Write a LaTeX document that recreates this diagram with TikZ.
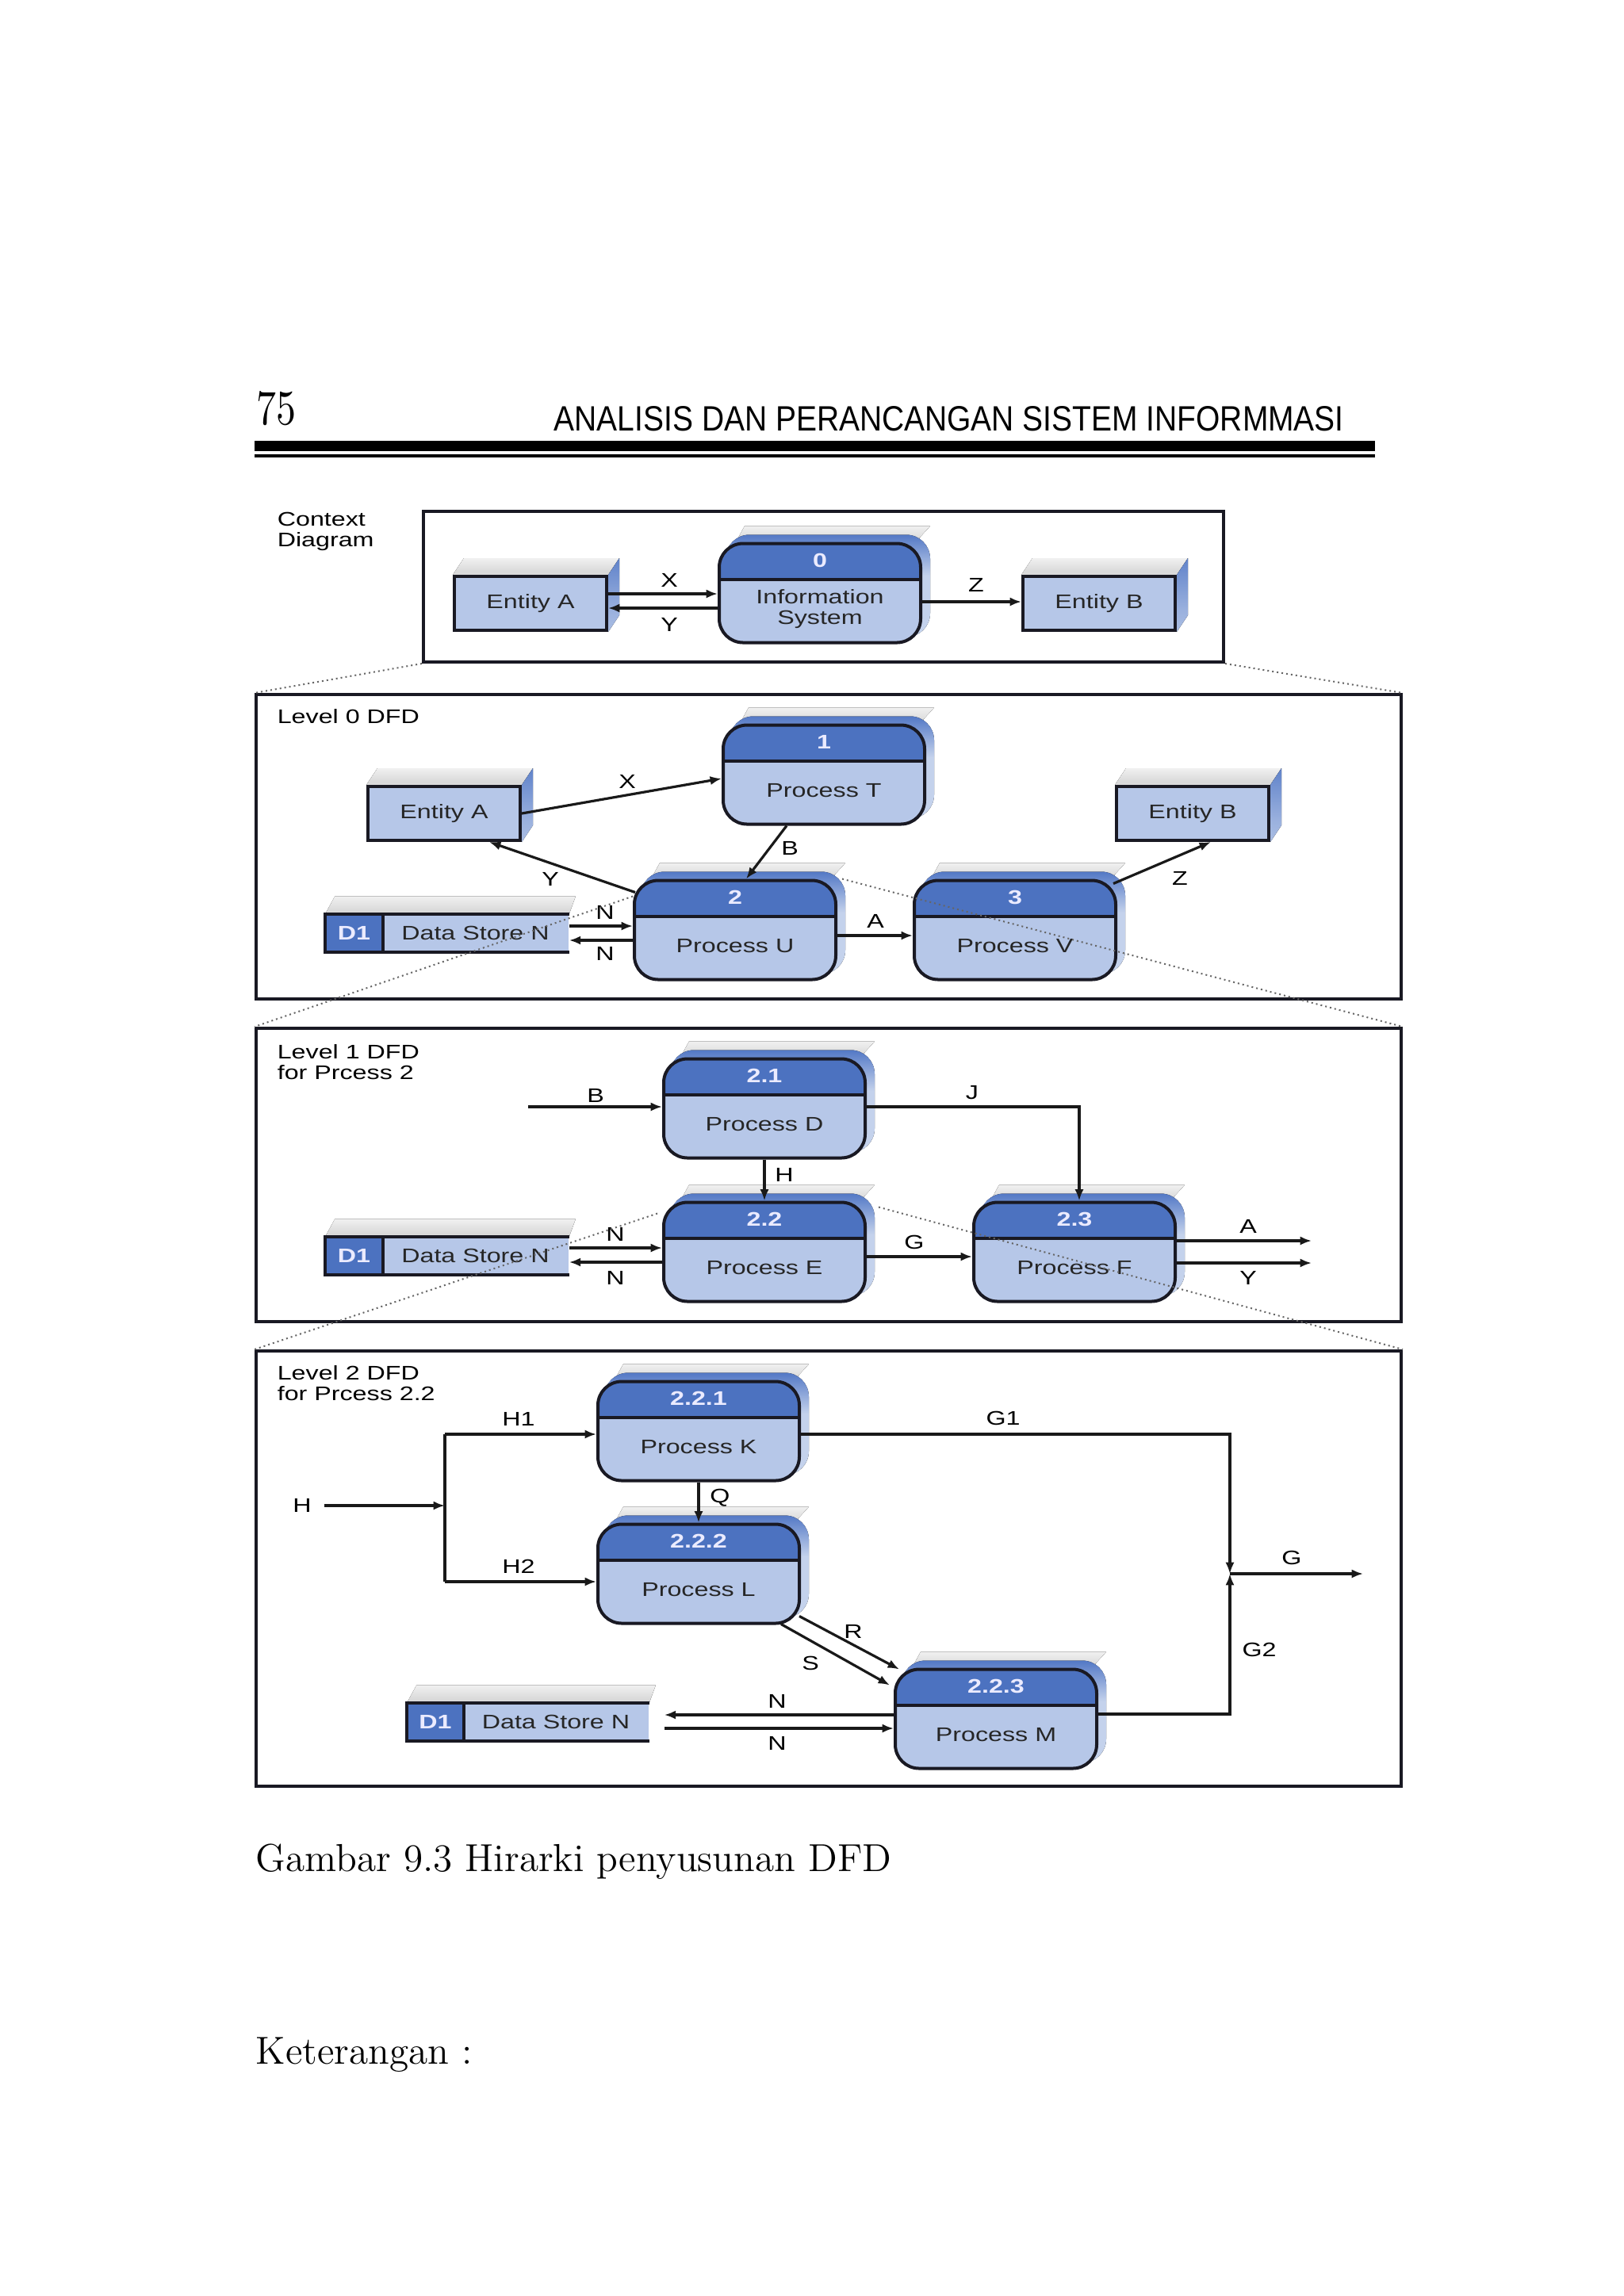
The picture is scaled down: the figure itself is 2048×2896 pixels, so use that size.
\documentclass[tikz,border=0pt]{standalone}
\usepackage{fontspec}
\newfontfamily\dsf[FakeStretch=1.3]{Liberation Sans}
\newfontfamily\hsf{Liberation Sans}
\usetikzlibrary{arrows.meta,calc,backgrounds}
\definecolor{procbody}{RGB}{182,199,232}
\definecolor{prochead}{RGB}{76,114,192}
\definecolor{sideblue}{RGB}{55,98,188}
\definecolor{sidelight}{RGB}{196,210,236}
\definecolor{edge}{RGB}{25,25,35}
\pgfdeclareverticalshading{sideshade}{100bp}{color(0bp)=(sidelight); color(55bp)=(sidelight); color(80bp)=(sideblue); color(100bp)=(sideblue)}
\pgfdeclareverticalshading{entshade}{100bp}{color(0bp)=(sidelight); color(40bp)=(sidelight!70!sideblue); color(100bp)=(sideblue)}
\pgfdeclareverticalshading{topshade}{100bp}{color(0bp)=(gray!22); color(35bp)=(gray!30); color(100bp)=(white)}
\newcommand{\entext}[1]{%
  \fill[shading=topshade] (#1.north west) -- ++(14,-21) -- ($(#1.north east)+(14,-21)$) -- (#1.north east) -- cycle;
  \fill[shading=entshade] (#1.north east) -- ++(14,-21) -- ($(#1.south east)+(14,-21)$) -- (#1.south east) -- cycle;
}
\newcommand{\procext}[1]{%
  \fill[shading=topshade] ($(#1.north west)+(22,2)$) -- ++(12,-22) -- ($(#1.north east)+(10,-20)$) -- ($(#1.north east)+(-10,2)$) -- cycle;
  \fill[shading=sideshade, rounded corners=7.5pt] ($(#1.south west)+(10,-9)$) rectangle ($(#1.north east)+(10,-9)$);
}
\newcommand{\storeext}[2]{%
  \fill[shading=topshade] (#1.north west) -- ++(12,-22) -- ($(#2.north east)+(8,-22)$) -- (#2.north east) -- cycle;
}
\newcommand{\storeborder}[2]{%
  \draw[storeline] (#2.north east) -- (#1.north west) -- (#1.south west) -- (#2.south east);
  \draw[storeline] (#1.north east) -- (#1.south east);
}
\begin{document}
\begin{tikzpicture}[x=0.25pt,y=-0.25pt,
  dfont/.style={font={\dsf\fontsize{6.2}{6.5}\selectfont}},
  frame/.style={draw=edge, line width=1pt, inner sep=0pt},
  entity/.style={draw=edge, line width=1pt, fill=procbody, minimum width=48pt, minimum height=17pt, inner sep=0pt, dfont, text=black!85},
  proc/.style={draw=edge, line width=1pt, rounded corners=7.5pt, fill=procbody, minimum width=63.5pt, minimum height=31.25pt, inner sep=0pt,
    path picture={\fill[prochead, sharp corners] (path picture bounding box.north west) rectangle ([yshift=-11.25pt]path picture bounding box.north east);
      \draw[line width=1pt, edge, sharp corners] ([yshift=-11.25pt]path picture bounding box.north west) -- ([yshift=-11.25pt]path picture bounding box.north east);}},
  pnum/.style={font={\dsf\bfseries\fontsize{6.2}{6.5}\selectfont}, text=white!92!blue, inner sep=0pt},
  ptext/.style={dfont, align=center, inner sep=0pt, text=black!85},
  storeD/.style={fill=prochead, minimum width=17.75pt, minimum height=11.75pt, inner sep=0pt, font={\dsf\bfseries\fontsize{6.2}{6.5}\selectfont}, text=white!92!blue},
  storeL/.style={fill=procbody, minimum width=58.75pt, minimum height=11.75pt, inner sep=0pt, dfont, text=black!85},
  storeline/.style={draw=edge, line width=1pt},
  lvl/.style={dfont, anchor=west, align=left, inner sep=0pt},
  lab/.style={dfont, inner sep=1pt},
  flow/.style={draw=black!90, line width=0.8pt, -{Latex[length=3.6pt,width=2.8pt]}},
  plain/.style={draw=black!90, line width=0.8pt},
  dots/.style={draw=black!60, line width=0.5pt, densely dotted}]
\useasboundingbox (0,0) rectangle (2048,2896);

% header
\node[anchor=base west, inner sep=0pt] (pgnum) at (323,535) {\resizebox{12.5pt}{10.5pt}{75}};
\node[anchor=base west, inner sep=0pt] (htitle) at (698,543) {\resizebox{249pt}{7.75pt}{\hsf ANALISIS DAN PERANCANGAN SISTEM INFORMMASI}};
\fill (321,556) rectangle (1734,569);
\fill (321,573) rectangle (1734,577);

% frames
\node[frame, minimum width=252.25pt, minimum height=47.5pt] (fC) at (1038.5,740) {};
\node[frame, minimum width=361pt, minimum height=96pt] (f0) at (1045,1068) {};
\node[frame, minimum width=361pt, minimum height=92.5pt] (f1) at (1045,1482) {};
\node[frame, minimum width=361pt, minimum height=137.25pt] (f2) at (1045,1978.5) {};

\node[lvl] (lC) at (349,670) {Context\\Diagram};
\node[lvl] (l0) at (349,904) {Level 0 DFD};
\node[lvl] (l1) at (349,1340) {Level 1 DFD\\for Prcess 2};
\node[lvl] (l2) at (349,1745) {Level 2 DFD\\for Prcess 2.2};

% context diagram
\node[entity] (cA) at (669,761) {Entity A};
\node[proc] (p0) at (1034,748) {};
\node[pnum] (p0n) at ($(p0.north)+(0,23)$) {0};
\node[ptext] (p0t) at ($(p0.north)+(0,85)$) {Information\\System};
\node[entity] (cB) at (1386,761) {Entity B};
\draw[flow] (cA.east |- 0,749) -- (p0.west |- 0,749);
\draw[flow] (p0.west |- 0,767) -- (cA.east |- 0,767);
\draw[flow] (p0.east |- 0,759) -- (cB.west |- 0,759);
\node[lab] (cX) at (844,732) {X};
\node[lab] (cY) at (844,788) {Y};
\node[lab] (cZ) at (1231,738) {Z};

% level 0
\node[proc] (pT) at (1039,977) {};
\node[pnum] (pTn) at ($(pT.north)+(0,23)$) {1};
\node[ptext] (pTt) at ($(pT.north)+(0,85)$) {Process T};
\node[entity] (eA) at (560,1026) {Entity A};
\node[entity] (eB) at (1504,1026) {Entity B};
\node[proc] (pU) at (927,1173) {};
\node[pnum] (pUn) at ($(pU.north)+(0,23)$) {2};
\node[ptext] (pUt) at ($(pU.north)+(0,85)$) {Process U};
\node[proc] (pV) at (1280,1173) {};
\node[pnum] (pVn) at ($(pV.north)+(0,23)$) {3};
\node[ptext] (pVt) at ($(pV.north)+(0,85)$) {Process V};
\node[storeD] (d0) at (446.5,1177) {D1};
\node[storeL] (s0) at (599.5,1177) {Data Store N};
\storeborder{d0}{s0}
\draw[flow] (eA.east) -- ($(pT.west)+(0,5)$);
\draw[flow] ($(pU.north west)+(3,17)$) -- ($(eA.south)+(57,0)$);
\draw[flow] ($(pT.south)+(-47,0)$) -- ($(pU.north)+(14,0)$);
\draw[flow] (pU.east |- 0,1180) -- (pV.west |- 0,1180);
\draw[flow] ($(pV.north east)+(-5,6)$) -- ($(eB.south)+(23,0)$);
\draw[flow] (s0.east |- 0,1168) -- (pU.west |- 0,1168);
\draw[flow] (pU.west |- 0,1186) -- (s0.east |- 0,1186);
\node[lab] (lX0) at (791,986) {X};
\node[lab] (lY0) at (694,1109) {Y};
\node[lab] (lB0) at (996,1070) {B};
\node[lab] (lA0) at (1104,1162) {A};
\node[lab] (lZ0) at (1488,1108) {Z};
\node[lab] (lN0a) at (763,1151) {N};
\node[lab] (lN0b) at (763,1203) {N};

% level 1
\node[proc] (pD) at (964,1398) {};
\node[pnum] (pDn) at ($(pD.north)+(0,23)$) {2.1};
\node[ptext] (pDt) at ($(pD.north)+(0,85)$) {Process D};
\node[proc] (pE) at (964,1579) {};
\node[pnum] (pEn) at ($(pE.north)+(0,23)$) {2.2};
\node[ptext] (pEt) at ($(pE.north)+(0,85)$) {Process E};
\node[proc] (pF) at (1355,1579) {};
\node[pnum] (pFn) at ($(pF.north)+(0,23)$) {2.3};
\node[ptext] (pFt) at ($(pF.north)+(0,85)$) {Process F};
\node[storeD] (d1) at (446.5,1584) {D1};
\node[storeL] (s1) at (599.5,1584) {Data Store N};
\storeborder{d1}{s1}
\coordinate (bIn) at (666,1396);
\draw[flow] (bIn) -- (pD.west |- bIn);
\draw[flow] (pD.east |- 0,1396) -| ($(pF.north)+(6,0)$);
\draw[flow] (pD.south) -- (pE.north);
\draw[flow] (pE.east |- 0,1585) -- (pF.west |- 0,1585);
\draw[flow] (s1.east |- 0,1574) -- (pE.west |- 0,1574);
\draw[flow] (pE.west |- 0,1592) -- (s1.east |- 0,1592);
\coordinate (aOut) at (1654,1565);
\coordinate (yOut) at (1654,1593);
\draw[flow] (pF.east |- aOut) -- (aOut);
\draw[flow] (pF.east |- yOut) -- (yOut);
\node[lab] (lB1) at (751,1382) {B};
\node[lab] (lJ1) at (1226,1378) {J};
\node[lab] (lH1) at (989,1482) {H};
\node[lab] (lG1) at (1153,1567) {G};
\node[lab] (lN1a) at (776,1557) {N};
\node[lab] (lN1b) at (776,1612) {N};
\node[lab] (lA1) at (1574,1547) {A};
\node[lab] (lY1) at (1574,1612) {Y};

% level 2
\node[proc] (pK) at (881,1805) {};
\node[pnum] (pKn) at ($(pK.north)+(0,23)$) {2.2.1};
\node[ptext] (pKt) at ($(pK.north)+(0,85)$) {Process K};
\node[proc] (pL) at (881,1985) {};
\node[pnum] (pLn) at ($(pL.north)+(0,23)$) {2.2.2};
\node[ptext] (pLt) at ($(pL.north)+(0,85)$) {Process L};
\node[proc] (pM) at (1256,2168) {};
\node[pnum] (pMn) at ($(pM.north)+(0,23)$) {2.2.3};
\node[ptext] (pMt) at ($(pM.north)+(0,85)$) {Process M};
\node[storeD, minimum width=17.5pt] (d2) at (549,2172) {D1};
\node[storeL, minimum width=58.5pt] (s2) at (701,2172) {Data Store N};
\storeborder{d2}{s2}
\node[lab] (lH) at (381,1899) {H};
\coordinate (jH) at (561,1899);
\coordinate (jH1) at (561,1809);
\coordinate (jH2) at (561,1995);
\draw[flow] ($(lH.east)+(12,0)$) -- (jH);
\draw[plain] (jH1) -- (jH2);
\draw[flow] (jH1) -- (pK.west |- jH1);
\draw[flow] (jH2) -- (pL.west |- jH2);
\draw[flow] (pK.south) -- (pL.north);
\coordinate (jG) at (1551,1985);
\draw[flow] (pK.east |- 0,1809) -| (jG);
\draw[flow] (pM.east |- 0,2162) -| (jG);
\coordinate (gOut) at (1719,1985);
\draw[flow] (jG) -- (gOut);
\draw[flow] ($(pL.south east)+(-2,-11)$) -- ($(pM.north west)+(7,2)$);
\draw[flow] ($(pL.south east)+(-25,-1)$) -- ($(pM.north west)+(-5,22)$);
\draw[flow] (pM.west |- 0,2163) -- ($(s2.east |- 0,2163)+(19,0)$);
\draw[flow] ($(s2.east |- 0,2180)+(19,0)$) -- (pM.west |- 0,2180);
\node[lab] (lH1b) at (654,1790) {H1};
\node[lab] (lH2b) at (654,1976) {H2};
\node[lab] (lQ) at (908,1889) {Q};
\node[lab] (lG1b) at (1265,1789) {G1};
\node[lab] (lG2b) at (1588,2081) {G2};
\node[lab] (lGb) at (1629,1965) {G};
\node[lab] (lR) at (1076,2058) {R};
\node[lab] (lS) at (1022,2098) {S};
\node[lab] (lN2a) at (980,2146) {N};
\node[lab] (lN2b) at (980,2199) {N};

% expansion lines
\draw[dots] (fC.south west) -- (f0.north west);
\draw[dots] (fC.south east) -- (f0.north east);
\draw[dots] ($(pU.north west)+(0,22)$) -- (f1.north west);
\draw[dots] ($(pU.north east)+(6,0)$) -- (f1.north east);
\draw[dots] ($(pE.north west)+(-6,16)$) -- (f2.north west);
\draw[dots] ($(pE.north east)+(15,8)$) -- (f2.north east);

% caption
\node[anchor=base west, inner sep=0pt, font=\fontsize{12.3}{14}\selectfont] (cap) at (322,2360) {Gambar 9.3 Hirarki penyusunan DFD};
\node[anchor=base west, inner sep=0pt, font=\fontsize{12.3}{14}\selectfont] (ket) at (322,2603) {Keterangan :};

\begin{pgfonlayer}{background}
\fill[white] (0,0) rectangle (2048,2896);
\entext{cA}\entext{cB}\entext{eA}\entext{eB}
\procext{p0}\procext{pT}\procext{pU}\procext{pV}
\procext{pD}\procext{pE}\procext{pF}
\procext{pK}\procext{pL}\procext{pM}
\storeext{d0}{s0}\storeext{d1}{s1}\storeext{d2}{s2}
\end{pgfonlayer}
\end{tikzpicture}
\end{document}
